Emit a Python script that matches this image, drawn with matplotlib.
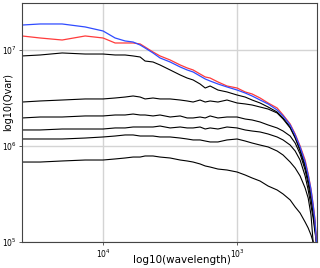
import numpy as np
import matplotlib
matplotlib.use("Agg")
import matplotlib.pyplot as plt
import matplotlib.ticker as ticker

# wavelength samples (axis runs from long to short wavelength)
wavelength = np.array([40200, 29500, 20200, 13600, 10000, 8130, 6850, 5970, 5290, 4860,
                       4240, 3760, 3160, 2660, 2360, 2130, 1890, 1730, 1590, 1390,
                       1190, 1000, 871, 773, 674, 587, 503, 454, 402, 369,
                       339, 311, 295, 281, 271, 262, 256])

# log10(Qvar)
log_blue = [7.260, 7.271, 7.271, 7.240, 7.198, 7.125, 7.094, 7.083, 7.052, 7.021,
            6.969, 6.917, 6.875, 6.823, 6.792, 6.771, 6.729, 6.698, 6.677, 6.646,
            6.615, 6.583, 6.552, 6.521, 6.479, 6.438, 6.375, 6.313, 6.219, 6.115,
            5.990, 5.833, 5.698, 5.542, 5.385, 5.208, 5.000]
log_red = [7.146, 7.125, 7.104, 7.146, 7.125, 7.073, 7.073, 7.073, 7.063, 7.031,
           6.979, 6.938, 6.896, 6.844, 6.813, 6.792, 6.750, 6.719, 6.708, 6.667,
           6.625, 6.604, 6.563, 6.542, 6.500, 6.448, 6.396, 6.323, 6.229, 6.125,
           6.000, 5.854, 5.708, 5.552, 5.396, 5.229, 5.000]
log_k1 = [6.938, 6.948, 6.969, 6.958, 6.958, 6.948, 6.948, 6.938, 6.927, 6.885,
          6.875, 6.844, 6.792, 6.740, 6.708, 6.688, 6.646, 6.604, 6.625, 6.583,
          6.563, 6.531, 6.510, 6.479, 6.448, 6.406, 6.354, 6.292, 6.198, 6.094,
          5.969, 5.802, 5.667, 5.510, 5.354, 5.177, 5.000]
log_k2 = [6.458, 6.469, 6.479, 6.490, 6.490, 6.500, 6.510, 6.521, 6.510, 6.490,
          6.500, 6.490, 6.490, 6.479, 6.469, 6.458, 6.479, 6.458, 6.469, 6.458,
          6.479, 6.448, 6.438, 6.427, 6.406, 6.385, 6.344, 6.281, 6.188, 6.083,
          5.948, 5.781, 5.646, 5.490, 5.333, 5.156, 5.000]
log_k3 = [6.292, 6.302, 6.302, 6.313, 6.313, 6.323, 6.323, 6.333, 6.323, 6.323,
          6.313, 6.323, 6.302, 6.313, 6.292, 6.292, 6.302, 6.292, 6.313, 6.292,
          6.302, 6.302, 6.281, 6.271, 6.250, 6.219, 6.188, 6.156, 6.104, 6.031,
          5.917, 5.750, 5.604, 5.438, 5.292, 5.125, 5.000]
log_k4 = [6.167, 6.167, 6.177, 6.177, 6.177, 6.188, 6.188, 6.198, 6.198, 6.198,
          6.198, 6.208, 6.188, 6.198, 6.188, 6.188, 6.198, 6.177, 6.188, 6.177,
          6.198, 6.188, 6.167, 6.156, 6.146, 6.125, 6.094, 6.063, 6.010, 5.948,
          5.854, 5.688, 5.542, 5.375, 5.250, 5.094, 5.000]
log_k5 = [6.073, 6.073, 6.073, 6.083, 6.094, 6.104, 6.115, 6.115, 6.104, 6.104,
          6.104, 6.094, 6.094, 6.083, 6.073, 6.063, 6.063, 6.052, 6.042, 6.042,
          6.063, 6.073, 6.052, 6.031, 6.010, 5.990, 5.948, 5.906, 5.833, 5.771,
          5.688, 5.563, 5.458, 5.281, 5.000, np.nan, np.nan]
log_k6 = [5.833, 5.833, 5.844, 5.854, 5.854, 5.865, 5.875, 5.885, 5.885, 5.896,
          5.896, 5.885, 5.875, 5.854, 5.844, 5.833, 5.813, 5.792, 5.781, 5.760,
          5.750, 5.729, 5.698, 5.667, 5.635, 5.583, 5.542, 5.500, 5.438, 5.365,
          5.302, 5.208, 5.146, 5.073, 5.000, np.nan, np.nan]

fig = plt.figure(figsize=(3.2, 2.68), dpi=100)
ax = fig.add_axes([0.069, 0.097, 0.922, 0.892])

for vals in [log_k1, log_k2, log_k3, log_k4, log_k5, log_k6]:
    ax.plot(wavelength, 10 ** np.array(vals), color='black', lw=0.8)
ax.plot(wavelength, 10 ** np.array(log_red), color='#ff3b3b', lw=0.9)
ax.plot(wavelength, 10 ** np.array(log_blue), color='#2f4bff', lw=0.9)

ax.set_xscale('log')
ax.set_yscale('log')
ax.set_xlim(40200, 253)
ax.set_ylim(1e5, 10 ** 7.49)

ax.xaxis.set_major_locator(ticker.FixedLocator([1e4, 1e3]))
ax.yaxis.set_major_locator(ticker.FixedLocator([1e5, 1e6, 1e7]))
ax.xaxis.set_minor_locator(ticker.NullLocator())
ax.yaxis.set_minor_locator(ticker.NullLocator())
ax.xaxis.set_major_formatter(ticker.LogFormatterMathtext())
ax.yaxis.set_major_formatter(ticker.LogFormatterMathtext())
ax.tick_params(labelsize=5.5, length=2.5, width=0.6, pad=1.5, color='#444444')

ax.grid(True, color='#d4d4d4', lw=1.0)
ax.set_axisbelow(True)
for s in ax.spines.values():
    s.set_color('#444444')
    s.set_linewidth(0.8)

ax.set_xlabel('log10(wavelength)', fontsize=7.5)
ax.set_ylabel('log10(Qvar)', fontsize=7)
ax.xaxis.set_label_coords(0.542, -0.054)
ax.yaxis.set_label_coords(-0.031, 0.586)

fig.savefig('out.png', dpi=100)
